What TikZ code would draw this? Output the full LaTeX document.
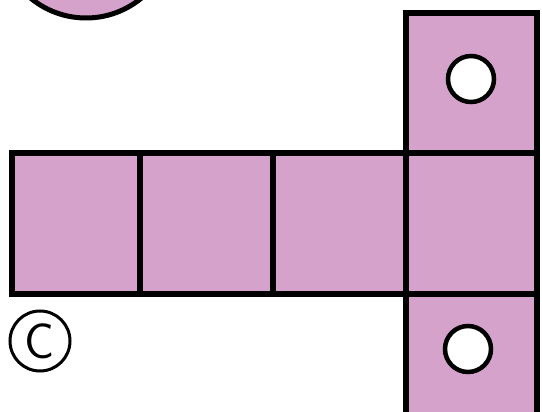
\documentclass[tikz,border=0pt]{standalone}
\definecolor{netpink}{RGB}{212,162,202}
\tikzset{
  sq/.style={draw=black, fill=netpink, line width=6pt, inner sep=0pt, outer sep=0pt},
  hole/.style={circle, draw=black, fill=white, line width=4.5pt, minimum size=46pt, inner sep=0pt},
  lbl/.style={circle, draw=black, line width=3pt, minimum size=60pt, inner sep=0pt, font=\sffamily\fontsize{50}{50}\selectfont}
}
\begin{document}
\begin{tikzpicture}[x={(1pt,0)}, y={(0,-1pt)}]
\useasboundingbox (0,0) rectangle (542,412);
\clip (0,0) rectangle (542,412);
% partial disc at top left
\draw[fill=netpink, line width=5pt] (86,-69) circle[radius=87pt];
% row of squares
\node[sq, minimum width=128pt, minimum height=141pt] (s1) at (76,223.5) {};
\node[sq, minimum width=133pt, minimum height=141pt] (s2) at (206.5,223.5) {};
\node[sq, minimum width=133pt, minimum height=141pt] (s3) at (339.5,223.5) {};
\node[sq, minimum width=131pt, minimum height=141pt] (s4) at (471.5,223.5) {};
% column squares
\node[sq, minimum width=131pt, minimum height=140pt] (top) at (471.5,83) {};
\node[sq, minimum width=131pt, minimum height=140pt] (bot) at (471.5,364) {};
% holes
\node[hole] (h1) at (471,79) {};
\node[hole] (h2) at (468,349) {};
% label
\node[lbl] (c) at (40,341) {C};
\end{tikzpicture}
\end{document}
